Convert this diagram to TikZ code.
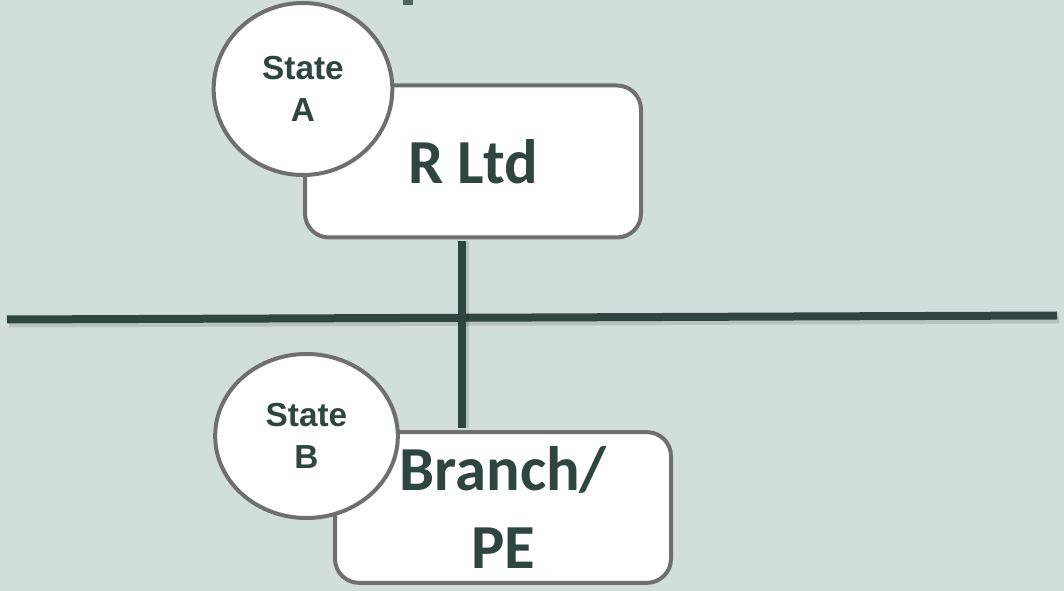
\documentclass[tikz,border=0pt]{standalone}
\usepackage{fontspec}
\newfontfamily\boxfont{Carlito}
\newfontfamily\statefont{Liberation Sans}
\usetikzlibrary{positioning, calc, shapes}

\definecolor{slate}{HTML}{D2DED9}
\definecolor{pine}{HTML}{2E463F}
\definecolor{rim}{HTML}{6F6F6F}

\tikzset{
  entity/.style={draw=rim, line width=3pt, fill=white, rounded corners=18pt,
    minimum width=252pt, minimum height=114pt, align=center, text=pine,
    font=\boxfont\bfseries\fontsize{47}{58}\selectfont},
  jurisdiction/.style={draw=rim, line width=3pt, fill=white, ellipse, inner sep=0pt,
    align=center, text=pine, font=\statefont\bfseries\fontsize{25}{31}\selectfont},
  link/.style={draw=pine, line width=6pt},
  linkshadow/.style={draw=black, opacity=0.12, line width=6pt}
}

\begin{document}
\begin{tikzpicture}[x=0.75pt, y=-0.75pt]
  \fill[slate] (0,0) rectangle (1064,591);
  \useasboundingbox (0,0) rectangle (1064,591);
  \fill[pine!80!slate] (403,0) rectangle (413,5);
  %
  \coordinate (west) at (7,319.5);
  \coordinate (east) at (1057,315.5);
  \coordinate (trunk) at (462,0);
  \draw[linkshadow] ($(west)+(2,4)$) -- ($(east)+(2,4)$);
  \draw[link] (west) -- (east);

  \node[entity] (rltd) at (473,161.5) {R Ltd};
  \node[entity, minimum height=113pt] (branch) at (503,507.5) {Branch/\\PE};
  \node[jurisdiction, minimum width=134pt, minimum height=129pt] (stateA) at (303,89) {State\\A};
  \node[jurisdiction, minimum width=137pt, minimum height=123pt] (stateB) at (306.5,436) {State\\B};

  \draw[linkshadow, shorten <=1.5pt, shorten >=1.5pt] ($(trunk |- rltd.south)+(3,0)$) -- ($(trunk |- branch.north)+(3,0)$);
  \draw[link, shorten <=1.5pt, shorten >=1.5pt] (trunk |- rltd.south) -- (trunk |- branch.north);
\end{tikzpicture}
\end{document}
